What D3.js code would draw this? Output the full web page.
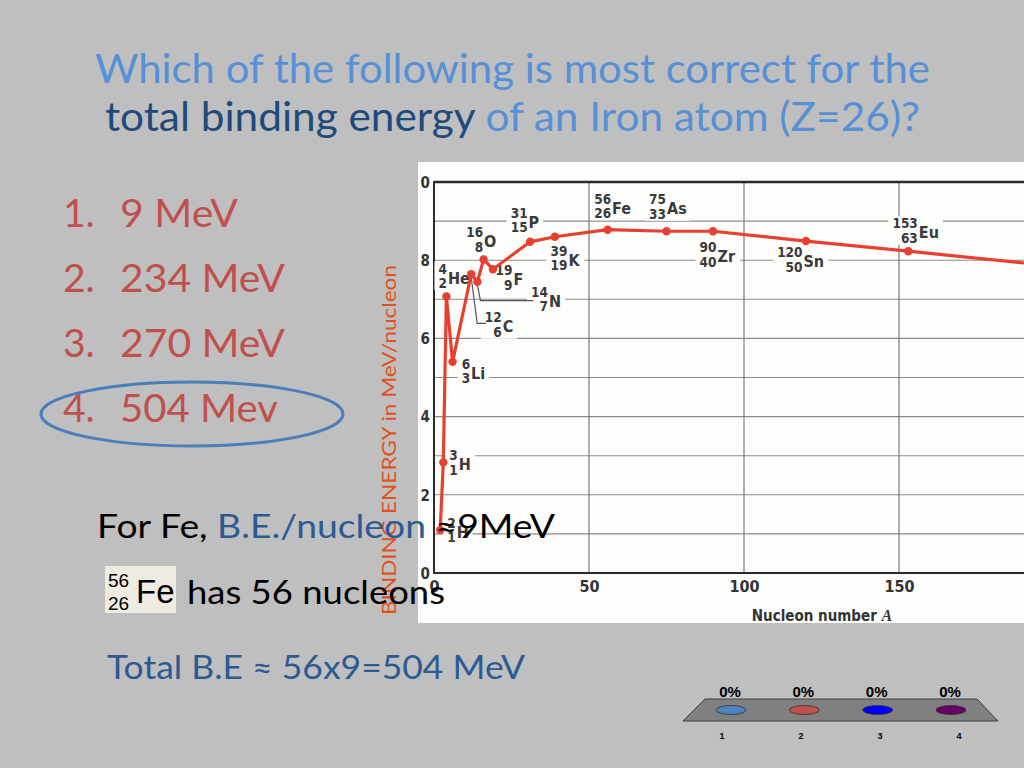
<!DOCTYPE html>
<html>
<head>
<meta charset="utf-8">
<script src="https://cdn.jsdelivr.net/npm/d3@7"></script>
<style>
  html, body { margin: 0; padding: 0; background: #bfbfbf; }
  svg { display: block; }
</style>
</head>
<body>
<svg id="slide" width="1024" height="768"></svg>
<script>
// ---------------- DATA ----------------
const isoSymbols = ["H", "H", "He", "Li", "C", "N", "O", "F", "P", "K", "Fe", "As", "Zr", "Sn", "Eu"];
const isoMass    = [2, 3, 4, 6, 12, 14, 16, 19, 31, 39, 56, 75, 90, 120, 153];
const isoZ       = [1, 1, 2, 3, 6, 7, 8, 9, 15, 19, 26, 33, 40, 50, 63];
const isoBE      = [1.1, 2.83, 7.07, 5.4, 7.64, 7.45, 8.02, 7.77, 8.47, 8.6, 8.78, 8.74, 8.74, 8.49, 8.23];
// curve continues past the right edge of the picture (clipped)
const tailMass = [200];
const tailBE   = [7.85];

const yTicks = [0, 2, 4, 6, 8, 10];
const yGrid  = [1, 2, 3, 4, 5, 6, 7, 8, 9];
const xTicks = [0, 50, 100, 150];
const xGrid  = [50, 100, 150, 200];

const titleLine1 = "Which of the following is most correct for the";
const titleLine2a = "total binding energy";
const titleLine2b = " of an Iron atom (Z=26)?";
const choiceNums = ["1.", "2.", "3.", "4."];
const choiceTexts = ["9 MeV", "234 MeV", "270 MeV", "504 Mev"];

const pollLabels = ["1", "2", "3", "4"];
const pollValues = [0, 0, 0, 0];
const pollColors = ["#4f81bd", "#c0504d", "#0000ff", "#660066"];

// label layout (offsets in px from the point; kept separate from data)
const labelLayout = {
  "2H":  [16, 8],  "3H": [15, 8],  "4He": [1, -13], "6Li": [18, 17],
  "12C": [31, 58], "14N": [71, 25], "16O": [0, -12], "19F": [20, 16],
  "31P": [-2, -14], "39K": [13, 29], "56Fe": [4, -16], "75As": [0, -17],
  "90Zr": [4, 31], "120Sn": [-3, 26], "153Eu": [10, -13]
};

// ---------------- SETUP ----------------
const svg = d3.select("#slide");
svg.append("rect").attr("width", 1024).attr("height", 768).attr("fill", "#bfbfbf");

const slideFont = "Lato, 'Open Sans', 'Noto Sans', sans-serif";
const chartFont = "'Liberation Sans Narrow', 'DejaVu Sans Condensed', 'Liberation Sans', Arial, sans-serif";

// ---------------- CHART IMAGE ----------------
const img = { x0: 418, y0: 162, x1: 1024, y1: 623 };
const defs = svg.append("defs");
defs.append("clipPath").attr("id", "imgClip").append("rect")
  .attr("x", img.x0).attr("y", img.y0).attr("width", img.x1 - img.x0).attr("height", img.y1 - img.y0);

const chart = svg.append("g").attr("clip-path", "url(#imgClip)");
chart.append("rect").attr("x", img.x0).attr("y", img.y0)
  .attr("width", img.x1 - img.x0).attr("height", img.y1 - img.y0).attr("fill", "#fdfdfb");

const x = d3.scaleLinear().domain([0, 200]).range([434, 1054]);
const y = d3.scaleLinear().domain([0, 10]).range([573, 182]);

// clip for the y tick labels (in the axis group's own coordinates)
defs.append("clipPath").attr("id", "tickClip").append("rect")
  .attr("x", 421 - x(0)).attr("y", img.y0).attr("width", 40).attr("height", img.y1 - img.y0);

// grid
chart.append("g").selectAll("line").data(yGrid).join("line")
  .attr("x1", x(0)).attr("x2", x(200)).attr("y1", d => y(d)).attr("y2", d => y(d))
  .attr("stroke", "#8c8c8c").attr("stroke-width", 1.1);
chart.append("g").selectAll("line").data(xGrid).join("line")
  .attr("x1", d => x(d)).attr("x2", d => x(d)).attr("y1", y(10)).attr("y2", y(0))
  .attr("stroke", "#6f6f6f").attr("stroke-width", 1.1);

// frame lines
chart.append("line").attr("x1", x(0)).attr("x2", x(200)).attr("y1", y(10)).attr("y2", y(10))
  .attr("stroke", "#2a2a2a").attr("stroke-width", 2.5);
chart.append("line").attr("x1", x(0)).attr("x2", x(200)).attr("y1", y(0)).attr("y2", y(0))
  .attr("stroke", "#2a2a2a").attr("stroke-width", 2);
chart.append("line").attr("x1", x(0)).attr("x2", x(0)).attr("y1", y(10) - 1).attr("y2", y(0) + 1)
  .attr("stroke", "#2a2a2a").attr("stroke-width", 2);

// axes labels
const yAxis = chart.append("g").attr("transform", `translate(${x(0)},0)`)
  .attr("clip-path", "url(#tickClip)")
  .call(d3.axisLeft(y).tickValues(yTicks).tickSize(0).tickPadding(4));
yAxis.select(".domain").remove();
yAxis.selectAll("text").attr("font-family", chartFont).attr("font-weight", "bold")
  .attr("font-size", 15).attr("fill", "#333").attr("dy", "0.35em");

const xAxis = chart.append("g").attr("transform", `translate(0,${y(0)})`)
  .call(d3.axisBottom(x).tickValues(xTicks).tickSize(0).tickPadding(8));
xAxis.select(".domain").remove();
xAxis.selectAll("text").attr("font-family", chartFont).attr("font-weight", "bold")
  .attr("font-size", 16).attr("fill", "#333");

const xt = chart.append("text").attr("x", 822).attr("y", 621).attr("text-anchor", "middle")
  .attr("font-family", chartFont).attr("font-weight", "bold").attr("font-size", 15).attr("fill", "#333");
xt.append("tspan").text("Nucleon number ");
xt.append("tspan").attr("font-family", "'Liberation Serif', 'DejaVu Serif', serif")
  .attr("font-style", "italic").attr("font-size", 16).text("A");

// isotope records
const isos = isoSymbols.map((s, i) => ({ sym: s, A: isoMass[i], Z: isoZ[i], be: isoBE[i], key: isoMass[i] + s }));

// label groups (drawn with white backing first)
const labelG = chart.append("g");
const backG = labelG.append("g");
const leaderG = labelG.append("g");
const textG = labelG.append("g");

isos.forEach(d => {
  const off = labelLayout[d.key];
  const bx = x(d.A) + off[0];
  const by = y(d.be) + off[1];
  const g = textG.append("g").attr("font-family", chartFont).attr("font-weight", "bold").attr("fill", "#3a3a3a");
  g.append("text").attr("x", bx - 0.5).attr("y", by - 10).attr("text-anchor", "end").attr("font-size", 13.5).text(d.A);
  g.append("text").attr("x", bx - 0.5).attr("y", by + 4.5).attr("text-anchor", "end").attr("font-size", 13.5).text(d.Z);
  g.append("text").attr("x", bx + 0.5).attr("y", by).attr("font-size", 16).text(d.sym);
  const bb = g.node().getBBox();
  backG.append("rect").attr("x", bb.x - 4).attr("y", bb.y + 1).attr("width", bb.width + 8).attr("height", bb.height - 2)
    .attr("fill", "#fdfdfb");
});

// leader lines for 12C and 14N
const leader = (A, be, dropY, endX, dx) => {
  const px = x(A), py = y(be);
  return d3.line()([[px, py + 3], [px + dx, dropY], [endX, dropY]]);
};
const c12 = isos.find(d => d.key === "12C");
const n14 = isos.find(d => d.key === "14N");
leaderG.append("path").attr("d", leader(c12.A, c12.be, y(c12.be) + 49, x(c12.A) + 15, 6))
  .attr("fill", "none").attr("stroke", "#555").attr("stroke-width", 1.2);
leaderG.append("path").attr("d", leader(n14.A, n14.be, y(n14.be) + 19, x(n14.A) + 56, 3))
  .attr("fill", "none").attr("stroke", "#555").attr("stroke-width", 1.2);

// curve
const curvePts = isos.map(d => [d.A, d.be]).concat(tailMass.map((m, i) => [m, tailBE[i]]));
const lineGen = d3.line().x(d => x(d[0])).y(d => y(d[1]));
chart.append("path").datum(curvePts).attr("d", lineGen)
  .attr("fill", "none").attr("stroke", "#e8402f").attr("stroke-width", 3.2).attr("stroke-linejoin", "round");
chart.append("g").selectAll("circle").data(isos).join("circle")
  .attr("cx", d => x(d.A)).attr("cy", d => y(d.be)).attr("r", 4.2).attr("fill", "#e8402f");

// raise text above the curve
textG.raise();

// ---------------- SLIDE TEXT ----------------
function fit(sel, w) {
  sel.attr("textLength", w).attr("lengthAdjust", "spacingAndGlyphs");
  return sel;
}

// y-axis title (behind body text)
svg.append("text").attr("transform", "translate(396,440) rotate(-90)")
  .attr("text-anchor", "middle").attr("font-family", slideFont).attr("font-size", 19)
  .attr("fill", "#e0521f").attr("textLength", 350).attr("lengthAdjust", "spacingAndGlyphs")
  .text("BINDING ENERGY in MeV/nucleon");

// title
const t1 = svg.append("text").attr("x", 95).attr("y", 83).attr("font-family", slideFont)
  .attr("font-size", 41).attr("fill", "#5590d8").text(titleLine1);
fit(t1, 835);
const t2 = svg.append("text").attr("x", 105).attr("y", 131).attr("font-family", slideFont)
  .attr("font-size", 41);
t2.append("tspan").attr("fill", "#1f4a7e").text(titleLine2a);
t2.append("tspan").attr("fill", "#5590d8").text(titleLine2b);
fit(t2, 815);

// choices
const choiceY = d3.scalePoint().domain(d3.range(4)).range([227, 422]);
const choiceW = [118, 165, 165, 158];
choiceNums.forEach((n, i) => {
  svg.append("text").attr("x", 63).attr("y", choiceY(i)).attr("font-family", slideFont)
    .attr("font-size", 39).attr("fill", "#c0504d").text(n);
  fit(svg.append("text").attr("x", 120).attr("y", choiceY(i)).attr("font-family", slideFont)
    .attr("font-size", 39).attr("fill", "#c0504d").text(choiceTexts[i]), choiceW[i]);
});

// circled answer
svg.append("ellipse").attr("cx", 192).attr("cy", 414).attr("rx", 151).attr("ry", 32)
  .attr("fill", "none").attr("stroke", "#4a7ebb").attr("stroke-width", 3);

// For Fe line
const f1 = svg.append("text").attr("x", 97).attr("y", 538).attr("font-family", slideFont)
  .attr("font-size", 32).attr("fill", "#000");
f1.append("tspan").text("For Fe, ");
f1.append("tspan").attr("fill", "#2c5a93").text("B.E./nucleon");
f1.append("tspan").text(" \u22489MeV");
fit(f1, 458);

// Fe box
svg.append("rect").attr("x", 105).attr("y", 566).attr("width", 71).attr("height", 47).attr("fill", "#eeece1");
const arial = "'Liberation Sans', Arial, sans-serif";
svg.append("text").attr("x", 108).attr("y", 587).attr("font-family", arial).attr("font-size", 19).attr("fill", "#000").text("56");
svg.append("text").attr("x", 108).attr("y", 610).attr("font-family", arial).attr("font-size", 19).attr("fill", "#000").text("26");
svg.append("text").attr("x", 136).attr("y", 603).attr("font-family", arial).attr("font-size", 33).attr("fill", "#000").text("Fe");

fit(svg.append("text").attr("x", 187).attr("y", 604).attr("font-family", slideFont)
  .attr("font-size", 32).attr("fill", "#000").text("has 56 nucleons"), 258);

fit(svg.append("text").attr("x", 107).attr("y", 679).attr("font-family", slideFont)
  .attr("font-size", 32).attr("fill", "#2c5a93").text("Total B.E \u2248 56x9=504 MeV"), 418);

// ---------------- POLL WIDGET ----------------
const poll = svg.append("g");
poll.append("path").attr("d", d3.line()([[705, 699], [977, 699], [998, 721], [683, 721], [705, 699]]))
  .attr("fill", "#808080").attr("stroke", "#404040").attr("stroke-width", 1);
const px = d3.scalePoint().domain(pollLabels).range([730, 950]);
const pxBottom = d3.scalePoint().domain(pollLabels).range([722, 959]);
poll.selectAll("ellipse").data(pollLabels).join("ellipse")
  .attr("cx", d => px(d) + 1).attr("cy", 710).attr("rx", 15).attr("ry", 4.5)
  .attr("fill", (d, i) => pollColors[i]).attr("stroke", "#333").attr("stroke-width", 0.8);
poll.selectAll("text.pct").data(pollValues).join("text").attr("class", "pct")
  .attr("x", (d, i) => px(pollLabels[i])).attr("y", 697).attr("text-anchor", "middle")
  .attr("font-family", arial).attr("font-weight", "bold").attr("font-size", 15).attr("fill", "#000")
  .text(d => d + "%");
poll.selectAll("text.num").data(pollLabels).join("text").attr("class", "num")
  .attr("x", d => pxBottom(d)).attr("y", 739).attr("text-anchor", "middle")
  .attr("font-family", arial).attr("font-weight", "bold").attr("font-size", 9).attr("fill", "#000")
  .text(d => d);
</script>
</body>
</html>
